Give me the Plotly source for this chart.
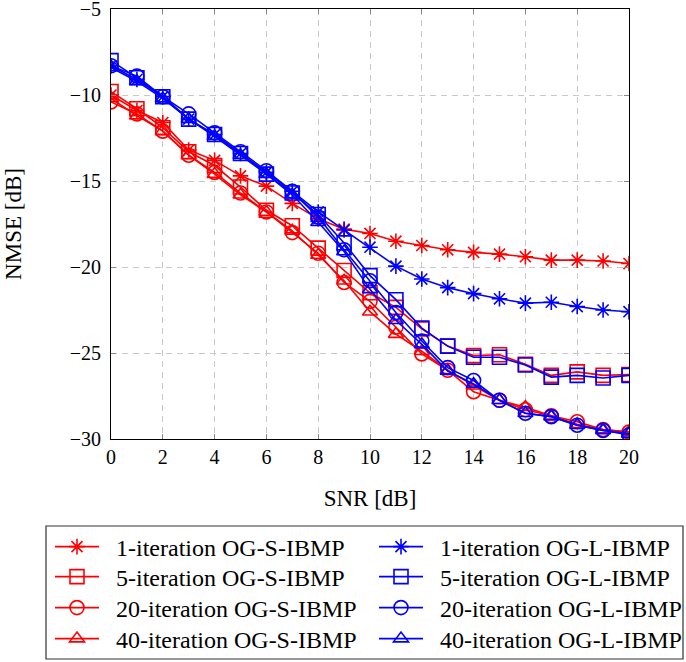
import plotly.graph_objects as go

snr = list(range(0, 21))

# NMSE [dB] per SNR point, OG-S-IBMP (red)
s_iter1 = [-10.0, -10.9, -11.6, -13.2, -13.8, -14.7, -15.3, -16.3, -17.2, -17.8, -18.05,
           -18.5, -18.75, -19.0, -19.15, -19.25, -19.4, -19.6, -19.6, -19.65, -19.8]
s_iter5 = [-9.8, -10.8, -11.9, -13.3, -14.1, -15.35, -16.7, -17.6, -18.9, -20.2, -21.5,
           -22.35, -23.6, -24.6, -25.15, -25.1, -25.65, -26.3, -26.1, -26.3, -26.25]
s_iter20 = [-10.4, -11.1, -12.1, -13.5, -14.5, -15.7, -16.8, -18.0, -19.2, -20.9, -22.0,
            -23.5, -25.05, -26.0, -27.25, -27.75, -28.3, -28.65, -29.0, -29.45, -29.6]
s_iter40 = [-10.2, -11.2, -12.1, -13.5, -14.6, -15.8, -16.8, -17.9, -19.3, -20.8, -22.6,
            -23.9, -24.9, -26.0, -26.9, -27.75, -28.15, -28.65, -29.15, -29.45, -29.6]

# NMSE [dB] per SNR point, OG-L-IBMP (blue)
l_iter1 = [-8.3, -9.1, -10.1, -11.4, -12.3, -13.4, -14.5, -15.6, -16.8, -17.85, -18.85,
           -19.95, -20.7, -21.2, -21.55, -21.85, -22.1, -22.05, -22.3, -22.5, -22.6]
l_iter5 = [-8.0, -9.0, -10.1, -11.4, -12.3, -13.4, -14.6, -15.7, -16.95, -18.6, -20.5,
           -21.9, -23.55, -24.6, -25.25, -25.25, -25.7, -26.4, -26.3, -26.45, -26.3]
l_iter20 = [-8.3, -8.9, -10.1, -11.1, -12.2, -13.3, -14.4, -15.6, -17.1, -19.0, -20.8,
            -22.65, -24.3, -25.85, -26.6, -27.75, -28.5, -28.7, -29.2, -29.5, -29.75]
l_iter40 = [-8.4, -9.2, -10.2, -11.4, -12.4, -13.5, -14.6, -15.8, -17.4, -19.1, -21.3,
            -23.1, -24.5, -26.05, -26.8, -27.75, -28.5, -28.7, -29.2, -29.5, -29.7]

x_ticks = [0, 2, 4, 6, 8, 10, 12, 14, 16, 18, 20]
y_ticks = [-30, -25, -20, -15, -10, -5]
y_tick_text = ["\u221230", "\u221225", "\u221220", "\u221215", "\u221210", "\u22125"]

RED = "#ff0000"
BLUE = "#0000ff"
FONT = "Liberation Serif, Times New Roman, serif"

W, H = 686, 662
ML, MR, MT, MB = 111, 57, 9, 223
PW, PH = W - ML - MR, H - MT - MB


def px_to_paper(px, py):
    """Convert a pixel position on the page to paper coordinates."""
    return (px - ML) / PW, (H - MB - py) / PH


# (name, values, colour, symbol, size, legend column, legend row)
series = [
    ("1-iteration OG-S-IBMP", s_iter1, RED, "asterisk-open", 13, 0, 0),
    ("5-iteration OG-S-IBMP", s_iter5, RED, "square-open", 14, 0, 1),
    ("20-iteration OG-S-IBMP", s_iter20, RED, "circle-open", 14, 0, 2),
    ("40-iteration OG-S-IBMP", s_iter40, RED, "triangle-up-open", 13, 0, 3),
    ("1-iteration OG-L-IBMP", l_iter1, BLUE, "asterisk-open", 13, 1, 0),
    ("5-iteration OG-L-IBMP", l_iter5, BLUE, "square-open", 14, 1, 1),
    ("20-iteration OG-L-IBMP", l_iter20, BLUE, "circle-open", 14, 1, 2),
    ("40-iteration OG-L-IBMP", l_iter40, BLUE, "triangle-up-open", 13, 1, 3),
]

col_left = [50, 374]          # left pixel of each legend column
row_center = [547, 577, 608, 639]
LABEL_PAD = "\u2002"          # gap between legend symbol and its label

fig = go.Figure()
legend_layouts = {}
for i, (name, vals, color, sym, size, col, row) in enumerate(series):
    key = "legend" if i == 0 else f"legend{i + 1}"
    fig.add_trace(go.Scatter(
        x=snr, y=vals, name=LABEL_PAD + name, mode="lines+markers",
        line=dict(color=color, width=1.6),
        marker=dict(symbol=sym, size=size, color=color,
                    line=dict(color=color, width=1.6)),
        legend=key,
    ))
    lx, ly = px_to_paper(col_left[col], row_center[row])
    legend_layouts[key] = dict(
        x=lx, y=ly, xanchor="left", yanchor="middle",
        bgcolor="rgba(0,0,0,0)", borderwidth=0,
        font=dict(family=FONT, size=24, color="black"),
        itemwidth=44,
    )

axis_common = dict(
    showline=True, linecolor="black", linewidth=1, mirror="ticks",
    ticks="inside", ticklen=5, tickcolor="#888888", tickwidth=1,
    showgrid=True, gridcolor="#c8c8c8", griddash="6px,5px", gridwidth=1,
    zeroline=False, ticklabeloverflow="allow",
    tickfont=dict(family=FONT, size=20, color="black"),
)

# frame around the legend entries
bx0, by1 = px_to_paper(46, 526)
bx1, by0 = px_to_paper(683, 659)
fig.add_shape(type="rect", xref="paper", yref="paper",
              x0=bx0, x1=bx1, y0=by0, y1=by1,
              line=dict(color="#333333", width=1.2), fillcolor="rgba(0,0,0,0)")

fig.update_layout(
    width=W, height=H,
    margin=dict(l=ML, r=MR, t=MT, b=MB, autoexpand=False),
    paper_bgcolor="white", plot_bgcolor="white",
    font=dict(family=FONT, color="black"),
    xaxis=dict(range=[0, 20], tickvals=x_ticks, automargin=False,
               title=dict(text="SNR [dB]", font=dict(family=FONT, size=23), standoff=22),
               **axis_common),
    yaxis=dict(range=[-30, -5], tickvals=y_ticks, ticktext=y_tick_text,
               automargin=False, ticklabelstandoff=5,
               title=dict(text="NMSE [dB]", font=dict(family=FONT, size=23), standoff=41),
               **axis_common),
    showlegend=True,
    **legend_layouts,
)

fig.write_html("out.html")
